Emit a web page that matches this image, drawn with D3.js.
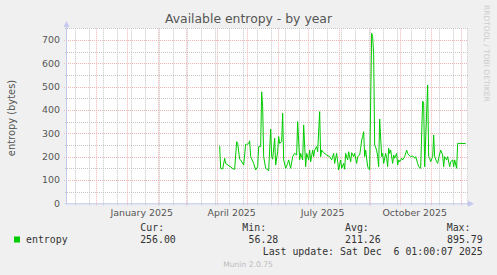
<!DOCTYPE html>
<html>
<head>
<meta charset="utf-8">
<script src="https://cdn.jsdelivr.net/npm/d3@7"></script>
<style>
  body { margin: 0; background: #f0f0f0; }
  svg { display: block; }
  text { font-family: "DejaVu Sans", sans-serif; }
  .mono { font-family: "DejaVu Sans Mono", monospace; font-size: 9.9px; fill: #333; }
</style>
</head>
<body>
<svg id="chart" width="497" height="275"></svg>
<script>
const title = 'Available entropy - by year'
const yLabel = 'entropy (bytes)'
const yTicks = [0, 100, 200, 300, 400, 500, 600, 700]
const monthLabels = ['January 2025', 'April 2025', 'July 2025', 'October 2025']
const monthLabelDates = ['2025-01-16', '2025-04-16', '2025-07-16', '2025-10-16']

// daily entropy (no data before April)
const dates = [
  '04-04', '04-05', '04-07', '04-09', '04-10', '04-18', '04-19', '04-21', '04-22', '04-24',
  '04-25', '04-28', '04-30', '05-01', '05-03', '05-04', '05-05', '05-08', '05-10', '05-12',
  '05-13', '05-15', '05-16', '05-17', '05-18', '05-20', '05-23', '05-25', '05-26', '05-27',
  '05-29', '05-30', '06-01', '06-02', '06-03', '06-05', '06-06', '06-07', '06-09', '06-11',
  '06-12', '06-14', '06-16', '06-18', '06-20', '06-21', '06-23', '06-24', '06-26', '06-27',
  '06-29', '06-30', '07-02', '07-03', '07-04', '07-06', '07-07', '07-08', '07-10', '07-11',
  '07-13', '07-14', '07-15', '07-17', '07-20', '07-23', '07-25', '07-27', '07-28', '07-30',
  '08-01', '08-03', '08-04', '08-06', '08-07', '08-08', '08-10', '08-11', '08-13', '08-14',
  '08-16', '08-17', '08-19', '08-20', '08-22', '08-23', '08-24', '08-25', '08-26', '08-27',
  '08-28', '08-30', '08-31', '09-01', '09-03', '09-04', '09-05', '09-06', '09-08', '09-09',
  '09-10', '09-11', '09-13', '09-14', '09-15', '09-17', '09-18', '09-19', '09-20', '09-21',
  '09-22', '09-24', '09-25', '09-26', '09-28', '09-29', '09-30', '10-01', '10-03', '10-04',
  '10-06', '10-08', '10-09', '10-10', '10-12', '10-14', '10-16', '10-17', '10-19', '10-20',
  '10-22', '10-24', '10-25', '10-26', '10-29', '10-30', '10-31', '11-01', '11-03', '11-04',
  '11-05', '11-07', '11-08', '11-09', '11-11', '11-13', '11-14', '11-15', '11-17', '11-18',
  '11-20', '11-21', '11-23', '11-24', '11-25', '11-27', '11-28', '12-06'
]
const values = [
  245, 150, 147, 193, 171, 146, 146, 264, 257, 189,
  186, 164, 253, 253, 255, 268, 200, 171, 143, 157,
  243, 243, 478, 414, 200, 150, 140, 318, 200, 189,
  279, 164, 221, 286, 257, 264, 386, 186, 150, 171,
  186, 150, 200, 214, 207, 350, 186, 214, 186, 336,
  157, 214, 186, 228, 178, 228, 200, 228, 243, 221,
  393, 200, 228, 217, 207, 200, 186, 214, 171, 214,
  143, 186, 150, 171, 146, 214, 186, 221, 178, 217,
  200, 214, 171, 200, 207, 236, 271, 286, 307, 200,
  228, 157, 150, 143, 729, 714, 640, 250, 228, 200,
  157, 361, 200, 214, 171, 214, 193, 157, 236, 214,
  228, 171, 207, 193, 214, 164, 186, 178, 193, 186,
  200, 228, 214, 207, 200, 203, 193, 200, 171, 157,
  150, 438, 430, 157, 507, 200, 193, 178, 200, 293,
  200, 178, 171, 193, 228, 207, 157, 200, 186, 200,
  157, 178, 186, 157, 186, 150, 257, 256
]

const statNames = ['Cur:', 'Min:', 'Avg:', 'Max:']
const statValues = ['256.00', '56.28', '211.26', '895.79']
const lastUpdate = 'Last update: Sat Dec  6 01:00:07 2025'

const svg = d3.select('#chart')
const parse = d3.timeParse('%Y-%m-%d')

const x = d3.scaleTime()
  .domain([new Date(2024, 10, 2, 8), new Date(2025, 11, 7, 8)])
  .range([67, 467])
const y = d3.scaleLinear()
  .domain([0, 750])
  .range([203.3, 28.3])

const plotLeft = 67, plotRight = 467, plotTop = 28.3, plotBottom = 203.3

// plot background
svg.append('rect')
  .attr('x', plotLeft).attr('y', plotTop)
  .attr('width', plotRight - plotLeft + 1).attr('height', plotBottom - plotTop)
  .attr('fill', '#fff')

// minor vertical grid: every second Sunday
const sundays = d3.timeSunday.range(x.domain()[0], x.domain()[1])
  .filter(d => Math.round((d - new Date(2024, 11, 8)) / 864e5 / 7) % 2 === 0)
svg.append('g').selectAll('line')
  .data(sundays)
  .enter().append('line')
  .attr('x1', d => Math.round(x(d)) + 0.5).attr('x2', d => Math.round(x(d)) + 0.5)
  .attr('y1', plotTop).attr('y2', plotBottom + 2)
  .attr('stroke', '#c4c4c4').attr('stroke-dasharray', '1,1')

// minor horizontal grid
svg.append('g').selectAll('line')
  .data(d3.range(50, 751, 100))
  .enter().append('line')
  .attr('x1', plotLeft - 2).attr('x2', plotRight + 1)
  .attr('y1', d => Math.round(y(d)) + 0.5).attr('y2', d => Math.round(y(d)) + 0.5)
  .attr('stroke', '#c4c4c4').attr('stroke-dasharray', '1,1')

// major vertical grid: month starts
const months = d3.timeMonth.range(x.domain()[0], x.domain()[1])
svg.append('g').selectAll('line')
  .data(months)
  .enter().append('line')
  .attr('x1', d => Math.round(x(d)) + 0.5).attr('x2', d => Math.round(x(d)) + 0.5)
  .attr('y1', plotTop).attr('y2', plotBottom + 3)
  .attr('stroke', '#f0b4b4').attr('stroke-dasharray', '1,1')

// major horizontal grid
svg.append('g').selectAll('line')
  .data(yTicks.slice(1))
  .enter().append('line')
  .attr('x1', plotLeft - 3).attr('x2', plotRight + 1)
  .attr('y1', d => Math.round(y(d)) + 0.5).attr('y2', d => Math.round(y(d)) + 0.5)
  .attr('stroke', '#f0b4b4').attr('stroke-dasharray', '1,1')

// data line
const line = d3.line()
  .x((d, i) => x(parse('2025-' + dates[i])))
  .y(d => y(d))
svg.append('path')
  .datum(values)
  .attr('d', line)
  .attr('fill', 'none')
  .attr('stroke', '#00cc00')
  .attr('stroke-width', 1)

// axes with arrows
const axisColor = '#c4c8ef'
svg.append('line')
  .attr('x1', plotLeft - 0.5).attr('x2', plotLeft - 0.5)
  .attr('y1', plotBottom + 1).attr('y2', 24)
  .attr('stroke', axisColor)
svg.append('path')
  .attr('d', `M${plotLeft - 3.5},27 L${plotLeft - 0.5},21 L${plotLeft + 2.5},27 Z`)
  .attr('fill', axisColor)
svg.append('line')
  .attr('x1', plotLeft - 2).attr('x2', plotRight + 4)
  .attr('y1', plotBottom + 0.5).attr('y2', plotBottom + 0.5)
  .attr('stroke', axisColor)
svg.append('path')
  .attr('d', `M${plotRight + 1},${plotBottom - 2.5} L${plotRight + 7},${plotBottom + 0.5} L${plotRight + 1},${plotBottom + 3.5} Z`)
  .attr('fill', axisColor)

// y tick labels
svg.append('g').selectAll('text')
  .data(yTicks)
  .enter().append('text')
  .attr('x', 60).attr('y', d => y(d))
  .attr('dy', '0.36em')
  .attr('text-anchor', 'end')
  .style('font-size', '9.4px').attr('fill', '#555')
  .text(d => d)

// x labels
svg.append('g').selectAll('text')
  .data(monthLabels)
  .enter().append('text')
  .attr('x', (d, i) => x(parse(monthLabelDates[i])))
  .attr('y', 215.5)
  .attr('text-anchor', 'middle')
  .style('font-size', '9.4px').attr('fill', '#555')
  .text(d => d)

// title
svg.append('text')
  .attr('x', 248.5).attr('y', 23)
  .attr('text-anchor', 'middle')
  .style('font-size', '12.4px').attr('fill', '#555')
  .text(title)

// y axis label
svg.append('text')
  .attr('transform', 'translate(15,118) rotate(-90)')
  .attr('text-anchor', 'middle')
  .style('font-size', '9.9px').attr('fill', '#555')
  .text(yLabel)

// watermark
svg.append('text')
  .attr('transform', 'translate(484,5) rotate(90)')
  .style('font-size', '7.5px').attr('fill', '#ccc')
  .text('RRDTOOL / TOBI OETIKER')

// legend
svg.append('rect')
  .attr('x', 14).attr('y', 236.5).attr('width', 6).attr('height', 6)
  .attr('fill', '#00cc00')
svg.append('text').attr('class', 'mono')
  .attr('x', 26).attr('y', 243)
  .text('entropy')

const statX = [140.3, 242.3, 345, 446.7]
const statEnd = [175.8, 278.3, 380.7, 482.7]
svg.append('g').selectAll('text')
  .data(statNames)
  .enter().append('text').attr('class', 'mono')
  .attr('x', (d, i) => statX[i]).attr('y', 231)
  .text(d => d)
svg.append('g').selectAll('text')
  .data(statValues)
  .enter().append('text').attr('class', 'mono')
  .attr('x', (d, i) => statEnd[i]).attr('y', 243)
  .attr('text-anchor', 'end')
  .text(d => d)
svg.append('text').attr('class', 'mono')
  .attr('x', 482.7).attr('y', 255)
  .attr('text-anchor', 'end')
  .style('white-space', 'pre')
  .text(lastUpdate)

svg.append('text')
  .attr('x', 248).attr('y', 267)
  .attr('text-anchor', 'middle')
  .style('font-size', '7.6px').attr('fill', '#bbb')
  .text('Munin 2.0.75')
</script>
</body>
</html>
